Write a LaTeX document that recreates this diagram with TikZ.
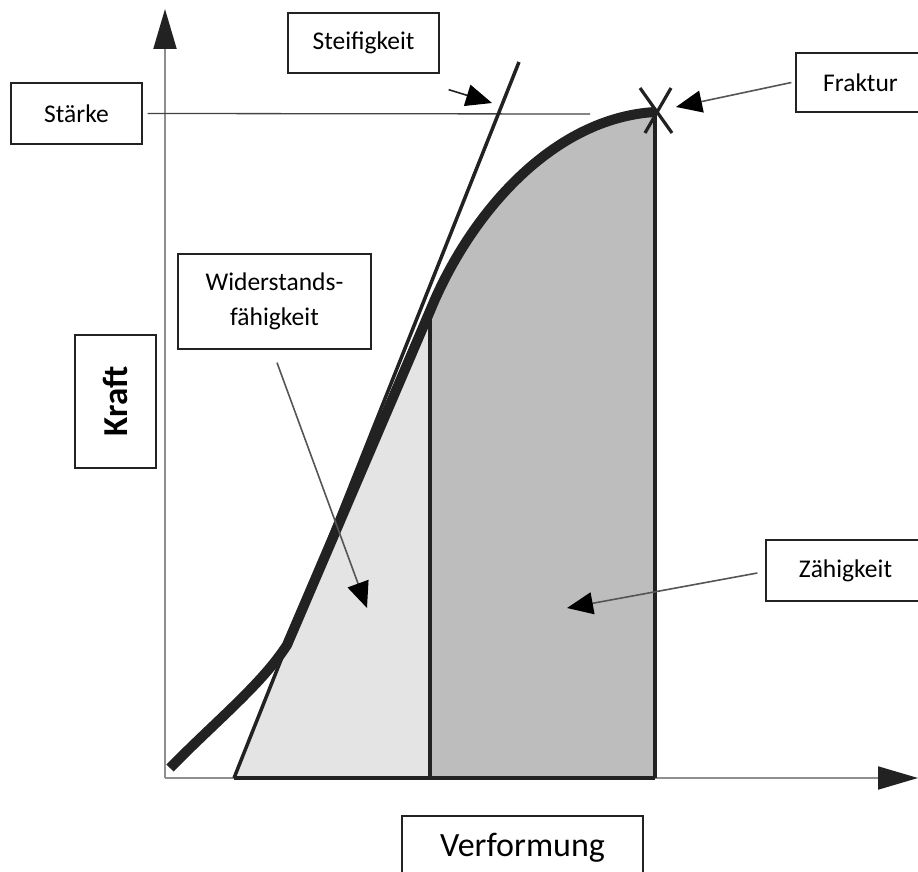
\documentclass[tikz,border=0pt]{standalone}
\usepackage{fontspec}
\setmainfont{Carlito}
\usetikzlibrary{arrows.meta}
\definecolor{ink}{HTML}{222222}
\definecolor{axgray}{HTML}{8E8E8E}
\definecolor{anngray}{HTML}{555555}
\definecolor{lightfill}{HTML}{E4E4E4}
\definecolor{darkfill}{HTML}{BDBDBD}
\begin{document}
\begin{tikzpicture}[x=1pt,y=-1pt,
  lbl/.style={draw=ink, line width=1.3pt, fill=white, inner sep=0pt,
    font=\fontsize{25.5}{35}\selectfont, text=black, align=center},
  axisline/.style={draw=axgray, line width=2pt,
    -{Triangle[length=40pt,width=23pt,color=ink]}},
  annarrow/.style={draw=anngray, line width=1.6pt,
    -{Triangle[length=26pt,width=22pt,color=black]}},
  heavy/.style={draw=ink, line width=3.2pt},
]
\useasboundingbox (0,0) rectangle (918,872);
\clip (0,0) rectangle (918,872);

% key coordinates
\coordinate (O) at (165,778);
\coordinate (ytop) at (165,9);
\coordinate (xend) at (918,778);
\coordinate (c0) at (170,768);
\coordinate (c1) at (287,645);
\coordinate (c2) at (430,311);
\coordinate (c3) at (655,112);
\coordinate (t0) at (234,778);
\coordinate (t1) at (519,62);
\coordinate (b2) at (430,778);
\coordinate (b3) at (655,778);

% filled areas
\fill[lightfill] (t0) -- (c1) -- (c2) -- (b2) -- cycle;
\fill[darkfill] (b2) -- (c2) .. controls (470,213) and (553,118) .. (c3) -- (b3) -- cycle;

% axes
\draw[axisline] (O) -- (ytop);
\draw[axisline] (O) -- (xend);

% boxes
\node[lbl, minimum width=131pt, minimum height=61pt] (staerke) at (76.5,113.5) {Stärke};
\node[lbl, minimum width=151pt, minimum height=60pt] (steif) at (363.5,43) {Steifigkeit};
\node[lbl, minimum width=129pt, minimum height=59pt] (fraktur) at (860.5,82.5) {Fraktur};
\node[lbl, minimum width=193pt, minimum height=95pt] (wid) at (274.5,301.5) {Widerstands-\\fähigkeit};
\node[lbl, minimum width=159pt, minimum height=61pt] (zaeh) at (845.5,570.5) {Zähigkeit};
\node[lbl, rotate=90, minimum width=133pt, minimum height=81pt,
  font=\fontsize{35}{40}\selectfont\bfseries] (kraft) at (115.5,401.5) {Kraft};
\node[lbl, minimum width=241pt, minimum height=64pt,
  font=\fontsize{34}{40}\selectfont] (verf) at (522.5,848) {Verformung};

% strength line
\coordinate (sEnd) at (590,114);
\draw[draw=ink!85, line width=1.3pt] ([xshift=5pt]staerke.east) -- (sEnd);

% stiffness tangent
\draw[draw=ink, line width=3.5pt] (t0) -- (t1);

% area borders
\draw[heavy] (c2) -- (b2);
\draw[heavy] (c3) -- (b3);
\draw[draw=ink, line width=4.5pt] (t0) -- (b3);

% load curve
\draw[draw=ink, line width=10pt, line join=round]
  (c0) .. controls (215,722) and (262,684) .. (c1) -- (c2)
  .. controls (470,213) and (553,118) .. (c3);

% fracture mark
\draw[draw=ink, line width=3.2pt] (640,88) -- (672,133);
\draw[draw=ink, line width=3.2pt] (671,88) -- (645,133);

% annotation arrows
\coordinate (tipSteif) at (492,103);
\coordinate (tipFrak) at (676,107);
\coordinate (tipWid) at (367,608);
\coordinate (tipZaeh) at (567,608);
\draw[annarrow, draw=ink] ([xshift=9pt,yshift=-16pt]steif.south east) -- (tipSteif);
\draw[annarrow] ([xshift=-4pt]fraktur.west) -- (tipFrak);
\draw[annarrow] ([xshift=2.5pt,yshift=-13pt]wid.south) -- (tipWid);
\draw[annarrow] ([xshift=-8pt,yshift=-2.5pt]zaeh.west) -- (tipZaeh);
\end{tikzpicture}
\end{document}
